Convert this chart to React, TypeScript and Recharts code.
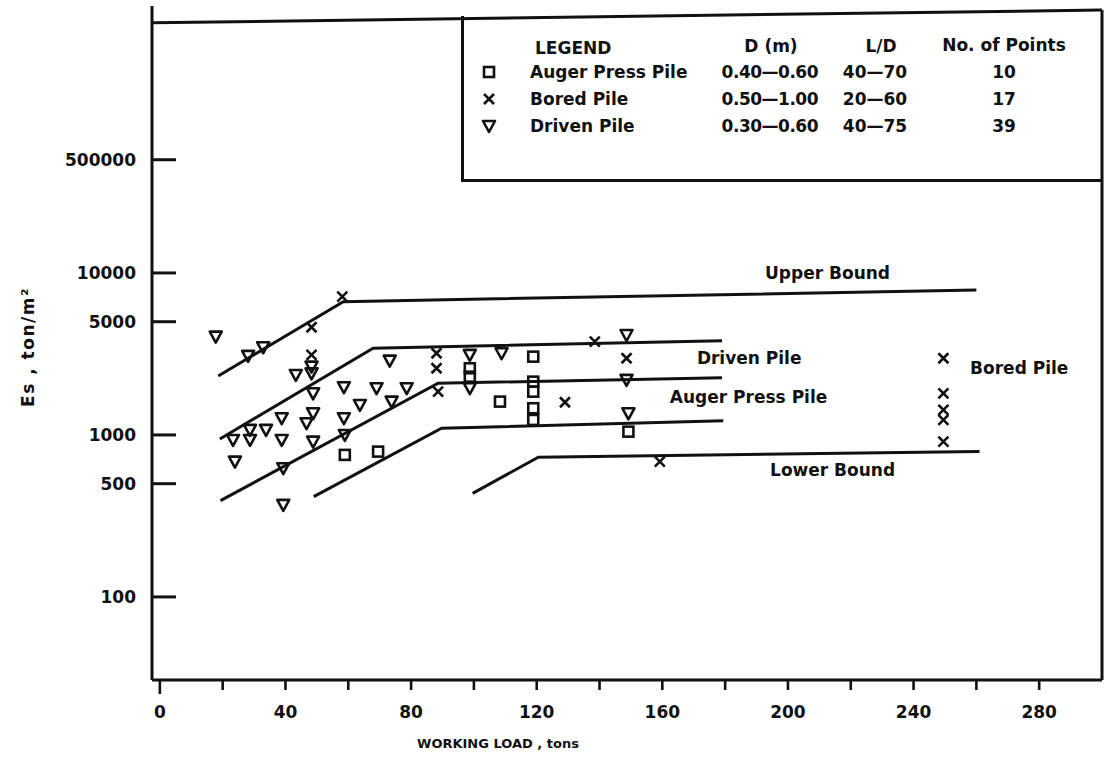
import { ComposedChart, Line, Scatter, XAxis, YAxis, ReferenceLine, ReferenceDot } from 'recharts'

const FONT = '"DejaVu Sans", Verdana, sans-serif'
const INK = '#111'

// working load (tons) vs modulus Es (ton/m2), one list per pile type
const AUGER_PRESS = [
  { x: 58.9, y: 753 }, { x: 69.5, y: 789 }, { x: 98.7, y: 2580 }, { x: 98.7, y: 2290 },
  { x: 108.3, y: 1606 }, { x: 118.9, y: 3043 }, { x: 118.9, y: 2133 }, { x: 118.9, y: 1850 },
  { x: 118.9, y: 1462 }, { x: 118.9, y: 1238 }, { x: 149.2, y: 1048 },
]

const BORED = [
  { x: 48.3, y: 4620 }, { x: 58.1, y: 7140 }, { x: 48.3, y: 3120 }, { x: 88.1, y: 3194 },
  { x: 88.1, y: 2581 }, { x: 88.6, y: 1850 }, { x: 129, y: 1592 }, { x: 138.5, y: 3767 },
  { x: 148.6, y: 2974 }, { x: 159.2, y: 684 }, { x: 249.5, y: 2974 }, { x: 249.5, y: 1807 },
  { x: 249.5, y: 1427 }, { x: 249.5, y: 1238 }, { x: 249.5, y: 910 },
]

const DRIVEN = [
  { x: 17.8, y: 4045 }, { x: 32.9, y: 3478 }, { x: 28.1, y: 3075 }, { x: 48.3, y: 2640 },
  { x: 48.3, y: 2400 }, { x: 48.8, y: 1807 }, { x: 48.8, y: 1361 }, { x: 46.7, y: 1181 },
  { x: 48.8, y: 909 }, { x: 43.3, y: 2346 }, { x: 73.2, y: 2876 }, { x: 58.6, y: 1970 },
  { x: 63.7, y: 1531 }, { x: 73.8, y: 1606 }, { x: 69, y: 1943 }, { x: 78.6, y: 1943 },
  { x: 58.6, y: 1268 }, { x: 58.9, y: 1000 }, { x: 38.8, y: 1268 }, { x: 33.8, y: 1074 },
  { x: 28.7, y: 1074 }, { x: 28.7, y: 931 }, { x: 23.3, y: 931 }, { x: 38.8, y: 931 },
  { x: 23.9, y: 684 }, { x: 39.3, y: 623 }, { x: 39.3, y: 370 }, { x: 98.7, y: 3120 },
  { x: 98.7, y: 1943 }, { x: 108.8, y: 3194 }, { x: 148.6, y: 4140 }, { x: 148.6, y: 2187 },
  { x: 149.2, y: 1361 },
]

// bound / trend lines (rising part, then flat part)
const UPPER_BOUND = [{ x: 18.6, y: 2310 }, { x: 58.4, y: 6650 }, { x: 260, y: 7850 }]
const DRIVEN_LINE = [{ x: 19.1, y: 945 }, { x: 67.9, y: 3430 }, { x: 179, y: 3820 }]
const AUGER_LINE = [{ x: 19.3, y: 393 }, { x: 88.6, y: 2085 }, { x: 179, y: 2255 }]
const MID_LINE = [{ x: 49, y: 416 }, { x: 89.7, y: 1100 }, { x: 179.4, y: 1225 }]
const LOWER_BOUND = [{ x: 99.6, y: 436 }, { x: 120.5, y: 728 }, { x: 261, y: 790 }]

const LINE_LABELS = [
  { text: 'Upper Bound', x: 192.7, y: 10000 },
  { text: 'Driven Pile', x: 171, y: 2985 },
  { text: 'Auger Press Pile', x: 162.4, y: 1718 },
  { text: 'Bored Pile', x: 258, y: 2594 },
  { text: 'Lower Bound', x: 194.3, y: 608 },
]

const X_TICKS = [0, 20, 40, 60, 80, 100, 120, 140, 160, 180, 200, 220, 240, 260, 280]
const Y_TICKS = [100, 500, 1000, 5000, 10000, 50000]
const Y_TICK_LABELS = ['100', '500', '1000', '5000', '10000', '500000']

const X_MIN = -2.5
const X_MAX = 300
const Y_MIN = 30.7
const Y_MAX = 444700

const LEGEND_ROWS = [
  { mark: 'square', name: 'Auger Press Pile', d: '0.40—0.60', ld: '40—70', n: '10' },
  { mark: 'cross', name: 'Bored Pile', d: '0.50—1.00', ld: '20—60', n: '17' },
  { mark: 'tri', name: 'Driven Pile', d: '0.30—0.60', ld: '40—75', n: '39' },
]

const textStyle = { fontFamily: FONT, fontWeight: 700, fontSize: 17, fill: INK }

function Square({ cx, cy }: any) {
  return <rect x={cx - 5} y={cy - 5} width={10} height={10} fill="none" stroke={INK} strokeWidth={2.6} />
}

function Cross({ cx, cy }: any) {
  return (
    <path d={`M${cx - 5},${cy - 5}L${cx + 5},${cy + 5}M${cx + 5},${cy - 5}L${cx - 5},${cy + 5}`}
      stroke={INK} strokeWidth={2.6} fill="none" />
  )
}

function Tri({ cx, cy }: any) {
  return (
    <path d={`M${cx - 6},${cy - 5}L${cx + 6},${cy - 5}L${cx},${cy + 6}Z`}
      stroke={INK} strokeWidth={2.6} fill="none" strokeLinejoin="round" />
  )
}

const MARKS: Record<string, (p: any) => any> = { square: Square, cross: Cross, tri: Tri }

function YTick({ x, y, payload }: any) {
  const i = Y_TICKS.indexOf(payload.value)
  return (
    <g>
      <line x1={x} x2={x + 24} y1={y} y2={y} stroke={INK} strokeWidth={3} />
      <text x={x - 16} y={y} textAnchor="end" dominantBaseline="central" {...textStyle}>
        {Y_TICK_LABELS[i]}
      </text>
    </g>
  )
}

function XTick({ x, y, payload }: any) {
  const v = payload.value
  return (
    <g>
      <line x1={x} x2={x} y1={y} y2={y + (v === 0 ? 14 : 10)} stroke={INK} strokeWidth={2.6} />
      {v % 40 === 0 && (
        <text x={x} y={y + 32} textAnchor="middle" dominantBaseline="central" {...textStyle}>
          {v}
        </text>
      )}
    </g>
  )
}

function LegendBox() {
  const cell = (left: number, top: number, align: 'left' | 'center' | 'right') => ({
    position: 'absolute' as const,
    left,
    top: top - 11,
    lineHeight: '22px',
    whiteSpace: 'nowrap' as const,
    transform: align === 'center' ? 'translateX(-50%)' : align === 'right' ? 'translateX(-100%)' : undefined,
  })
  const rowY = [56, 83, 110]
  return (
    <div style={{
      position: 'absolute', left: 461, top: 16, width: 641, height: 166,
      borderLeft: `3px solid ${INK}`, borderBottom: `3px solid ${INK}`, boxSizing: 'border-box',
      fontFamily: FONT, fontWeight: 700, fontSize: 17, color: INK,
    }}>
      <div style={cell(71, 32, 'left')}>LEGEND</div>
      <div style={cell(307, 30, 'center')}>D (m)</div>
      <div style={cell(417, 30, 'center')}>L/D</div>
      <div style={cell(540, 29, 'center')}>No. of Points</div>
      {LEGEND_ROWS.map((r, i) => {
        const M = MARKS[r.mark]
        return (
          <div key={r.name}>
            <svg style={{ position: 'absolute', left: 15, top: rowY[i] - 10 }} width={20} height={20}>
              <M cx={10} cy={10} />
            </svg>
            <div style={cell(66, rowY[i], 'left')}>{r.name}</div>
            <div style={{ ...cell(354, rowY[i], 'right'), letterSpacing: -0.5 }}>{r.d}</div>
            <div style={cell(411, rowY[i], 'center')}>{r.ld}</div>
            <div style={cell(540, rowY[i], 'center')}>{r.n}</div>
          </div>
        )
      })}
    </div>
  )
}

export default function App() {
  return (
    <div style={{ position: 'absolute', left: 0, top: 0, width: 1109, height: 759, background: '#fff' }}>
      <ComposedChart width={1109} height={759} margin={{ top: 6, right: 7, bottom: 19, left: 72 }}>
        <XAxis
          type="number" dataKey="x" domain={[X_MIN, X_MAX]} ticks={X_TICKS} interval={0}
          allowDataOverflow height={60} tickSize={0} tickMargin={0} tickLine={false}
          axisLine={{ stroke: INK, strokeWidth: 3 }} tick={(p: any) => <XTick {...p} />}
          label={{
            value: 'WORKING LOAD , tons', position: 'insideBottom', offset: -8,
            style: { ...textStyle, fontSize: 13 }, dx: -129,
          }}
        />
        <YAxis
          type="number" dataKey="y" scale="log" domain={[Y_MIN, Y_MAX]} ticks={Y_TICKS} interval={0}
          allowDataOverflow width={80} tickSize={0} tickMargin={0} tickLine={false}
          axisLine={{ stroke: INK, strokeWidth: 3 }} tick={(p: any) => <YTick {...p} />}
          label={{
            value: 'Es , ton/m²', angle: -90, position: 'insideLeft', offset: -44, dy: 4,
            style: { ...textStyle, textAnchor: 'middle', letterSpacing: 1.5 },
          }}
        />

        {/* outer frame: top and right edges */}
        <ReferenceLine
          segment={[{ x: X_MIN, y: 350000 }, { x: X_MAX, y: 420000 }]}
          stroke={INK} strokeWidth={3} ifOverflow="visible"
        />
        <ReferenceLine
          segment={[{ x: X_MAX, y: Y_MIN }, { x: X_MAX, y: 420000 }]}
          stroke={INK} strokeWidth={3} ifOverflow="visible"
        />

        <Line data={UPPER_BOUND} dataKey="y" type="linear" stroke={INK} strokeWidth={3} dot={false} isAnimationActive={false} />
        <Line data={DRIVEN_LINE} dataKey="y" type="linear" stroke={INK} strokeWidth={3} dot={false} isAnimationActive={false} />
        <Line data={AUGER_LINE} dataKey="y" type="linear" stroke={INK} strokeWidth={3} dot={false} isAnimationActive={false} />
        <Line data={MID_LINE} dataKey="y" type="linear" stroke={INK} strokeWidth={3} dot={false} isAnimationActive={false} />
        <Line data={LOWER_BOUND} dataKey="y" type="linear" stroke={INK} strokeWidth={3} dot={false} isAnimationActive={false} />

        <Scatter data={AUGER_PRESS} dataKey="y" shape={(p: any) => <Square {...p} />} isAnimationActive={false} />
        <Scatter data={BORED} dataKey="y" shape={(p: any) => <Cross {...p} />} isAnimationActive={false} />
        <Scatter data={DRIVEN} dataKey="y" shape={(p: any) => <Tri {...p} />} isAnimationActive={false} />

        {LINE_LABELS.map((l) => (
          <ReferenceDot
            key={l.text} x={l.x} y={l.y} r={0} fill="none" stroke="none"
            label={{ value: l.text, position: 'right', offset: 0, style: textStyle }}
          />
        ))}
      </ComposedChart>
      <LegendBox />
    </div>
  )
}
